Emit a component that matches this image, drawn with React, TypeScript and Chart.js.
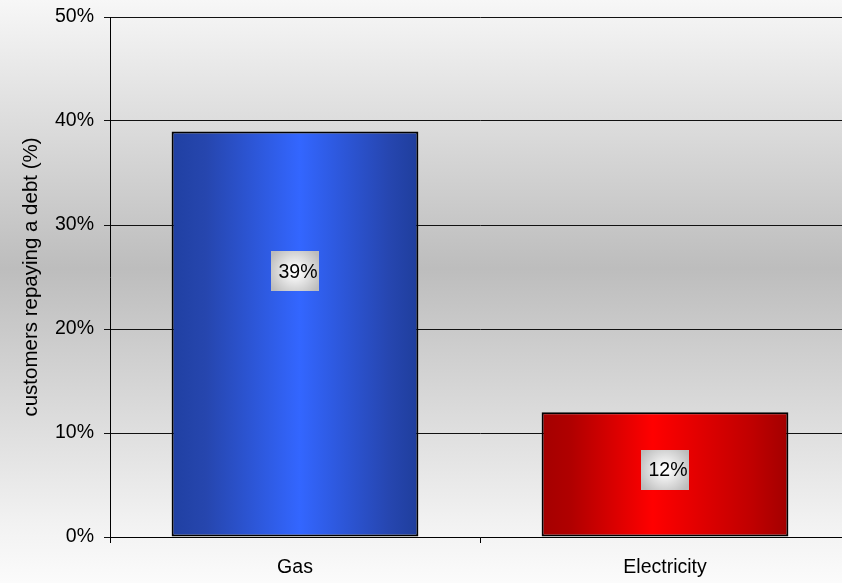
import React, { useEffect, useRef } from 'react';
import { Chart, registerables } from 'chart.js';

Chart.register(...registerables);

const categories = ['Gas', 'Electricity'];
const values = [39, 12];
const valueLabels = ['39%', '12%'];
const yTickStep = 10;
const yMin = 0;
const yMax = 50;
const yTitle = 'customers repaying a debt (%)';

const FONT = '"Liberation Sans", Arial, sans-serif';
const BAR_PCT = 0.667;
const LABEL_ANCHOR = [0.655, 0.54];

const blueStops: [number, string][] = [
  [0, '#2040a2'],
  [0.14, '#2646ae'],
  [0.52, '#3366ff'],
  [0.88, '#2646b0'],
  [1, '#1f3e9c'],
];
const redStops: [number, string][] = [
  [0, '#a40000'],
  [0.12, '#b00000'],
  [0.45, '#ff0000'],
  [0.85, '#c00000'],
  [1, '#a20000'],
];

function makeGradient(c: any, stops: [number, string][]) {
  const chart = c.chart;
  const xs = chart.scales && chart.scales.x;
  if (!xs || !chart.chartArea) return stops[2][1];
  const cx = xs.getPixelForValue(c.dataIndex);
  const half = ((xs.width / categories.length) * BAR_PCT) / 2;
  const g = chart.ctx.createLinearGradient(cx - half, 0, cx + half, 0);
  stops.forEach(([o, col]) => g.addColorStop(o, col));
  return g;
}

export default function App() {
  const ref = useRef<HTMLCanvasElement>(null);

  useEffect(() => {
    const canvas = ref.current;
    if (!canvas) return;

    const bgPlugin = {
      id: 'bgGradient',
      beforeDraw(chart: any) {
        const { ctx, width, height } = chart;
        const g = ctx.createLinearGradient(0, 0, 0, height);
        g.addColorStop(0, '#f7f7f7');
        g.addColorStop(0.46, '#bdbdbd');
        g.addColorStop(0.9, '#f2f2f2');
        g.addColorStop(1, '#fbfbfb');
        ctx.save();
        ctx.fillStyle = g;
        ctx.fillRect(0, 0, width, height);
        ctx.restore();
      },
    };

    const labelPlugin = {
      id: 'boxLabels',
      afterDatasetsDraw(chart: any) {
        const meta = chart.getDatasetMeta(0);
        const ctx = chart.ctx;
        const ys = chart.scales.y;
        ctx.save();
        ctx.font = `19.5px ${FONT}`;
        meta.data.forEach((bar: any, i: number) => {
          const cx = bar.x;
          const cy = ys.getPixelForValue(values[i] * LABEL_ANCHOR[i]);
          const w = 48;
          const h = 40;
          const g = ctx.createRadialGradient(cx, cy, 2, cx, cy, w / 2 + 4);
          g.addColorStop(0, '#ffffff');
          g.addColorStop(1, '#bcbcbc');
          ctx.fillStyle = g;
          ctx.fillRect(Math.round(cx - w / 2), Math.round(cy - h / 2), w, h);
          ctx.fillStyle = '#000';
          ctx.textAlign = 'center';
          ctx.textBaseline = 'middle';
          ctx.fillText(valueLabels[i], cx + 3, cy + 1);
        });
        ctx.restore();
      },
    };

    const chart = new Chart(canvas, {
      type: 'bar',
      data: {
        labels: categories,
        datasets: [
          {
            data: values,
            backgroundColor: (c: any) =>
              makeGradient(c, c.dataIndex === 0 ? blueStops : redStops),
            borderColor: '#000',
            borderWidth: 2,
            borderSkipped: false,
            categoryPercentage: 1,
            barPercentage: BAR_PCT,
          },
        ],
      },
      options: {
        animation: false,
        responsive: false,
        maintainAspectRatio: false,
        devicePixelRatio: 1,
        layout: { padding: { top: 17, left: 0, right: 0, bottom: 0 } },
        plugins: {
          legend: { display: false },
          tooltip: { enabled: false },
        },
        scales: {
          x: {
            type: 'category',
            grid: {
              offset: true,
              drawOnChartArea: false,
              drawTicks: true,
              tickLength: 6,
              color: '#000',
              lineWidth: 1,
            },
            border: { color: '#000', width: 1 },
            ticks: {
              color: '#000',
              font: { family: FONT, size: 19.5 },
              padding: 13,
              maxRotation: 0,
            },
            afterFit: (s: any) => {
              s.height = 46;
              s.paddingLeft = 0;
              s.paddingRight = 0;
            },
          },
          y: {
            min: yMin,
            max: yMax,
            ticks: {
              stepSize: yTickStep,
              callback: (v: any) => v + '%',
              color: '#000',
              font: { family: FONT, size: 19.5 },
              padding: 10,
            },
            grid: { color: '#111', tickLength: 6, lineWidth: 1 },
            border: { color: '#000', width: 1 },
            title: {
              display: true,
              text: yTitle,
              color: '#000',
              font: { family: FONT, size: 20.5 },
              padding: { top: 19, bottom: 0 },
            },
            afterFit: (s: any) => {
              s.width = 110;
              s.paddingTop = 0;
              s.paddingBottom = 0;
            },
          },
        },
      },
      plugins: [bgPlugin, labelPlugin],
    } as any);

    return () => chart.destroy();
  }, []);

  return (
    <div
      style={{
        position: 'fixed',
        left: 0,
        top: 0,
        width: 842,
        height: 583,
        overflow: 'hidden',
      }}
    >
      <canvas
        ref={ref}
        width={850}
        height={583}
        style={{ display: 'block', width: 850, height: 583 }}
      />
    </div>
  );
}
